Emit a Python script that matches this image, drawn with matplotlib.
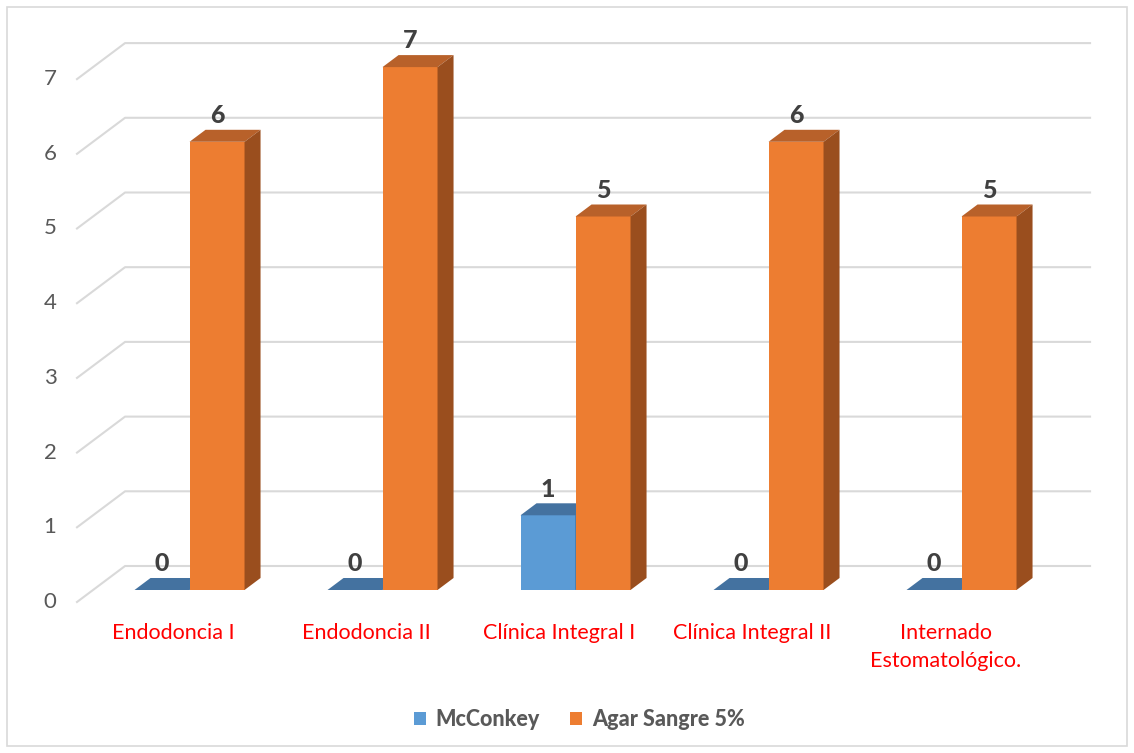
import matplotlib.pyplot as plt
from matplotlib.patches import Polygon, Rectangle, Patch

plt.rcParams['font.family'] = ['Lato', 'DejaVu Sans']

categorias = ["Endodoncia I", "Endodoncia II", "Clínica Integral I",
              "Clínica Integral II", "Internado\nEstomatológico."]
mcconkey = [0, 0, 1, 0, 0]
agar = [6, 7, 5, 6, 5]
series = ["McConkey", "Agar Sangre 5%"]
yticks = [0, 1, 2, 3, 4, 5, 6, 7]

# colores: frente, arriba, lado
azul = ("#5B9BD5", "#4472A0", "#3A6187")
naranja = ("#ED7D31", "#B8612A", "#9A4E1E")

# geometria del "3D" (en unidades de datos)
DX, DY = 0.249, 0.482      # vector de profundidad completo
D0, D1 = 1 / 3, 2 / 3      # profundidad ocupada por las barras
W = 0.285                  # ancho de cada barra

fig = plt.figure(figsize=(11.34, 7.53), dpi=100)
ax = fig.add_axes([0, 0, 1, 1])
ax.set_xlim(-77 / 193, (1134 - 77) / 193)
ax.set_ylim((602 - 753) / 74.7, 602 / 74.7)
ax.axis('off')

# marco
fig.patches.append(Rectangle((7 / 1134, 7 / 753), 1120 / 1134, 739 / 753,
                             transform=fig.transFigure, fill=False,
                             edgecolor="#D9D9D9", linewidth=1.2))

n = len(categorias)
# rejilla (pared del fondo + diagonal)
for v in yticks:
    ax.plot([0, DX, n + DX], [v, v + DY, v + DY], color="#D9D9D9", lw=1.5, zorder=1)
    ax.text(-0.14, v, str(v), ha='center', va='center', fontsize=16, color="#595959")


def barra3d(x0, v, cols):
    fx = x0 + D0 * DX
    fy = D0 * DY
    ax.bar(fx, v, width=W, bottom=fy, align='edge', color=cols[0], zorder=3, linewidth=0)
    top = [(fx, fy + v), (fx + W, fy + v), (x0 + W + D1 * DX, D1 * DY + v), (x0 + D1 * DX, D1 * DY + v)]
    ax.add_patch(Polygon(top, closed=True, facecolor=cols[1], edgecolor='none', zorder=3))
    if v > 0:
        side = [(fx + W, fy), (x0 + W + D1 * DX, D1 * DY), (x0 + W + D1 * DX, D1 * DY + v), (fx + W, fy + v)]
        ax.add_patch(Polygon(side, closed=True, facecolor=cols[2], edgecolor='none', zorder=3))
    ax.text(fx + W / 2, fy + v + 0.35, str(v), ha='center', va='center',
            fontsize=18, fontweight='black', color="#404040", zorder=4)


for i in range(n):
    c = i + 0.5
    barra3d(c - W, mcconkey[i], azul)
    barra3d(c, agar[i], naranja)
    ax.text(c, -0.28, categorias[i], ha='center', va='top', fontsize=15.5,
            color="#FF0000", linespacing=1.5)

handles = [Patch(facecolor=azul[0]), Patch(facecolor=naranja[0])]
fig.legend(handles, series, loc='center', bbox_to_anchor=(0.511, 0.044), ncol=2,
           frameon=False, handlelength=0.55, handleheight=0.55, columnspacing=1.4,
           handletextpad=0.45, prop={'weight': 'black', 'size': 15.5}, labelcolor="#595959")

fig.savefig("out.png", dpi=100)
